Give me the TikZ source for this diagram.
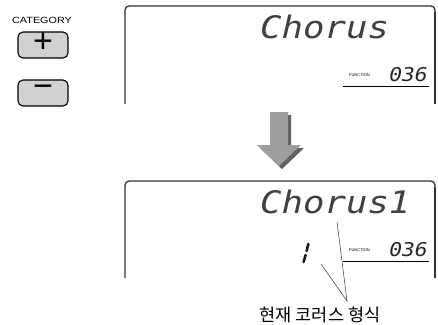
\documentclass[tikz,border=0pt]{standalone}
\usepackage{fontspec}
\setmainfont{Liberation Sans}
\newfontfamily\lcdfont{DejaVu Sans Mono}
\newfontfamily\krfont{Noto Sans CJK KR}
\begin{document}
\begin{tikzpicture}[x=1pt,y=-1pt,
  frame/.style={draw=black!80, line width=1.3pt, rounded corners=4pt},
  btn/.style={draw=black, fill=black!18, line width=1.1pt, rounded corners=5pt, minimum width=50pt, minimum height=26pt, inner sep=0pt},
  lcd/.style={inner sep=0pt, anchor=base west, font=\lcdfont\itshape\fontsize{31}{31}\selectfont, text=black!75},
  seg/.style={inner sep=0pt, anchor=base east, font=\lcdfont\itshape\fontsize{19}{19}\selectfont, text=black!85},
  fn/.style={inner sep=0pt, anchor=base east, font=\fontsize{4}{4}\selectfont},
  callout/.style={draw=black!80, line width=0.5pt}]
\useasboundingbox (0,0) rectangle (438,324);
% left buttons
\node[inner sep=0pt, anchor=base west, font=\fontsize{9}{10}\selectfont] (cat) at (12,23) {\scalebox{1.2}[1]{CATEGORY}};
\node[btn] (plus) at (43,45) {};
\node[btn] (minus) at (43,93) {};
\node[inner sep=0pt, font=\fontsize{34}{34}\selectfont] (plussym) at (43,43) {+};
\node[inner sep=0pt, font=\fontsize{34}{34}\selectfont] (minussym) at (43,91.5) {−};
% top display
\draw[frame] (125,104) -- (125,6) -- (435,6) -- (435,104);
\draw[black!80, line width=2pt] (435,12) -- (435,104);
\node[lcd] (t1) at (260,38) {\scalebox{1.15}[1]{Chorus}};
\node[seg] (n1) at (428,81) {\scalebox{1.12}[1]{036}};
\node[fn] (f1) at (370,76) {FUNCTION};
\draw[black, line width=0.8pt] (343,86) -- (429,86);
% arrow
\fill[black!62] (273,115) -- (291,115) -- (291,148) -- (304,148) -- (282,169) -- (260,148) -- (273,148) -- cycle;
\fill[black!38] (270,112) -- (288,112) -- (288,145) -- (301,145) -- (279,166) -- (257,145) -- (270,145) -- cycle;
% bottom display
\draw[frame] (125,278) -- (125,181) -- (435,181) -- (435,278);
\draw[black!80, line width=2pt] (435,187) -- (435,278);
\node[lcd] (t2) at (260,213) {\scalebox{1.15}[1]{Chorus1}};
\node[seg] (n2) at (428,256) {\scalebox{1.12}[1]{036}};
\node[fn] (f2) at (370,251) {FUNCTION};
\draw[black, line width=0.8pt] (343,261) -- (429,261);
\draw[black!90, line width=2.6pt, line cap=round] (308.3,244) -- (306.6,251);
\draw[black!90, line width=2.6pt, line cap=round] (305.6,255) -- (303.6,262);
% callout
\node[inner sep=0pt, anchor=base, font=\krfont\fontsize{17.5}{18}\selectfont] (lbl) at (320,321) {현재 코러스 형식};
\coordinate (ctip) at (347,301);
\coordinate (c1) at (337,222);
\coordinate (c2) at (321,264);
\draw[callout] (c1) -- (ctip) -- (c2);
\end{tikzpicture}
\end{document}
